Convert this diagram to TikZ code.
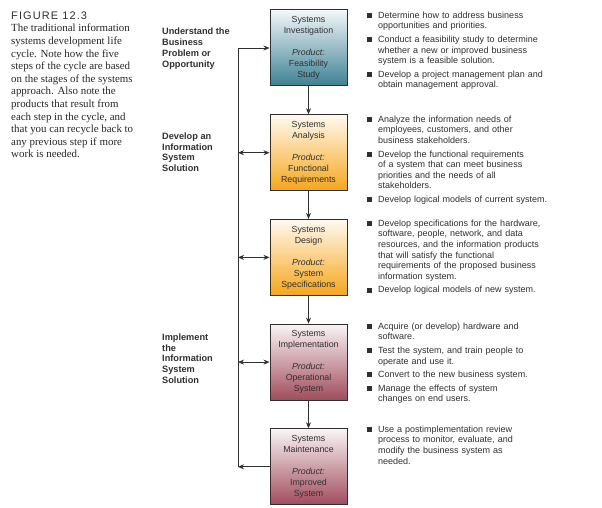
\documentclass[tikz,border=0pt]{standalone}
\usepackage{fontspec}
\setmainfont{Liberation Serif}
\setsansfont{Liberation Sans}
\newfontfamily\figfont[LetterSpace=10]{Liberation Sans}
\usetikzlibrary{positioning,arrows.meta}
\definecolor{cteal}{RGB}{60,128,148}
\definecolor{corange}{RGB}{246,166,26}
\definecolor{cmaroon}{RGB}{160,76,92}
\definecolor{cink}{RGB}{48,48,48}
\tikzset{stg/.style={draw=cink,line width=1pt,top color=#1!6,bottom color=#1,
    minimum width=77pt,minimum height=76pt,inner sep=0pt,align=center,text=cink,
    font=\sffamily\fontsize{8.8}{11}\selectfont},
  phs/.style={anchor=north west,align=left,inner sep=0pt,text=cink,
    font=\sffamily\bfseries\fontsize{9.2}{10.8}\selectfont},
  nts/.style={anchor=north west,align=left,inner sep=0pt,text width=225pt,text=cink,
    font=\sffamily\fontsize{9}{10.6}\selectfont,
    execute at begin node={\setlength{\parskip}{3pt}}},
  arr/.style={draw=cink,line width=0.7pt,-{Stealth[length=6pt,width=5pt]}},
  both/.style={draw=cink,line width=0.7pt,{Stealth[length=6pt,width=5pt]}-{Stealth[length=6pt,width=5pt]}}}
\newcommand{\bitem}{\hangindent=11pt\hangafter=1\noindent\makebox[11pt][l]{\rule[0.3pt]{5pt}{5pt}}}

\begin{document}
\begin{tikzpicture}[x=1pt,y=-1pt]
    \path[use as bounding box,fill=white] (0,0) rectangle (602,508);
    \node[anchor=north west,inner sep=0pt,text=cink,font=\figfont\fontsize{11}{13}\selectfont] (fig) at (11,12) {FIGURE 12.3};
    \node[anchor=north west,inner sep=0pt,align=left,text=cink!80!black,font=\fontsize{10.9}{12.6}\selectfont] (cap) at (11,24)
      {The traditional information\\systems development life\\cycle. Note how the five\\steps of the cycle are based\\on the stages of the systems\\approach. Also note the\\products that result from\\each step in the cycle, and\\that you can recycle back to\\any previous step if more\\work is needed.};
    \node[phs] (und) at (162,28) {Understand the\\Business\\Problem or\\Opportunity};
    \node[phs] (dev) at (162,132.5) {Develop an\\Information\\System\\Solution};
    \node[phs] (impl) at (162,333.5) {Implement\\the\\Information\\System\\Solution};
    \node[stg=cteal] (inv) at (308.5,48) {Systems\\Investigation\\[11pt]\textit{Product:}\\Feasibility\\Study};
    \node[stg=corange,below=27.7pt of inv] (ana) {Systems\\Analysis\\[11pt]\textit{Product:}\\Functional\\Requirements};
    \node[stg=corange,below=27.7pt of ana] (des) {Systems\\Design\\[11pt]\textit{Product:}\\System\\Specifications};
    \node[stg=cmaroon,below=27.7pt of des] (imp) {Systems\\Implementation\\[11pt]\textit{Product:}\\Operational\\System};
    \node[stg=cmaroon,below=27.7pt of imp] (mnt) {Systems\\Maintenance\\[11pt]\textit{Product:}\\Improved\\System};
    \coordinate (rail) at (238,0);
    \coordinate (rtop) at (inv.west -| rail);
    \coordinate (rbot) at (mnt.west -| rail);
    \draw[draw=cink,line width=0.7pt] (rtop) -- (rbot);
    \draw[arr] (rtop) -- (inv.west);
    \draw[arr] (mnt.west) -- (rbot);
    \foreach \n in {ana,des,imp}{
      \coordinate (r\n) at (\n.west -| rail);
      \draw[both] (r\n) -- (\n.west);
    }
    \draw[arr] (inv) -- (ana);
    \draw[arr] (ana) -- (des);
    \draw[arr] (des) -- (imp);
    \draw[arr] (imp) -- (mnt);
    \node[nts] (n1) at (367,11.5) {\bitem Determine how to address business\newline opportunities and priorities.\par
      \bitem Conduct a feasibility study to determine\newline whether a new or improved business\newline system is a feasible solution.\par
      \bitem Develop a project management plan and\newline obtain management approval.\par};
    \node[nts] (n2) at (367,115.5) {\bitem Analyze the information needs of\newline employees, customers, and other\newline business stakeholders.\par
      \bitem Develop the functional requirements\newline of a system that can meet business\newline priorities and the needs of all\newline stakeholders.\par
      \bitem Develop logical models of current system.\par};
    \node[nts] (n3) at (367,219.5) {\bitem Develop specifications for the hardware,\newline software, people, network, and data\newline resources, and the information products\newline that will satisfy the functional\newline requirements of the proposed business\newline information system.\par
      \bitem Develop logical models of new system.\par};
    \node[nts] (n4) at (367,322.5) {\bitem Acquire (or develop) hardware and\newline software.\par
      \bitem Test the system, and train people to\newline operate and use it.\par
      \bitem Convert to the new business system.\par
      \bitem Manage the effects of system\newline changes on end users.\par};
    \node[nts] (n5) at (367,425.5) {\bitem Use a postimplementation review\newline process to monitor, evaluate, and\newline modify the business system as\newline needed.\par};
  \end{tikzpicture}
\end{document}
